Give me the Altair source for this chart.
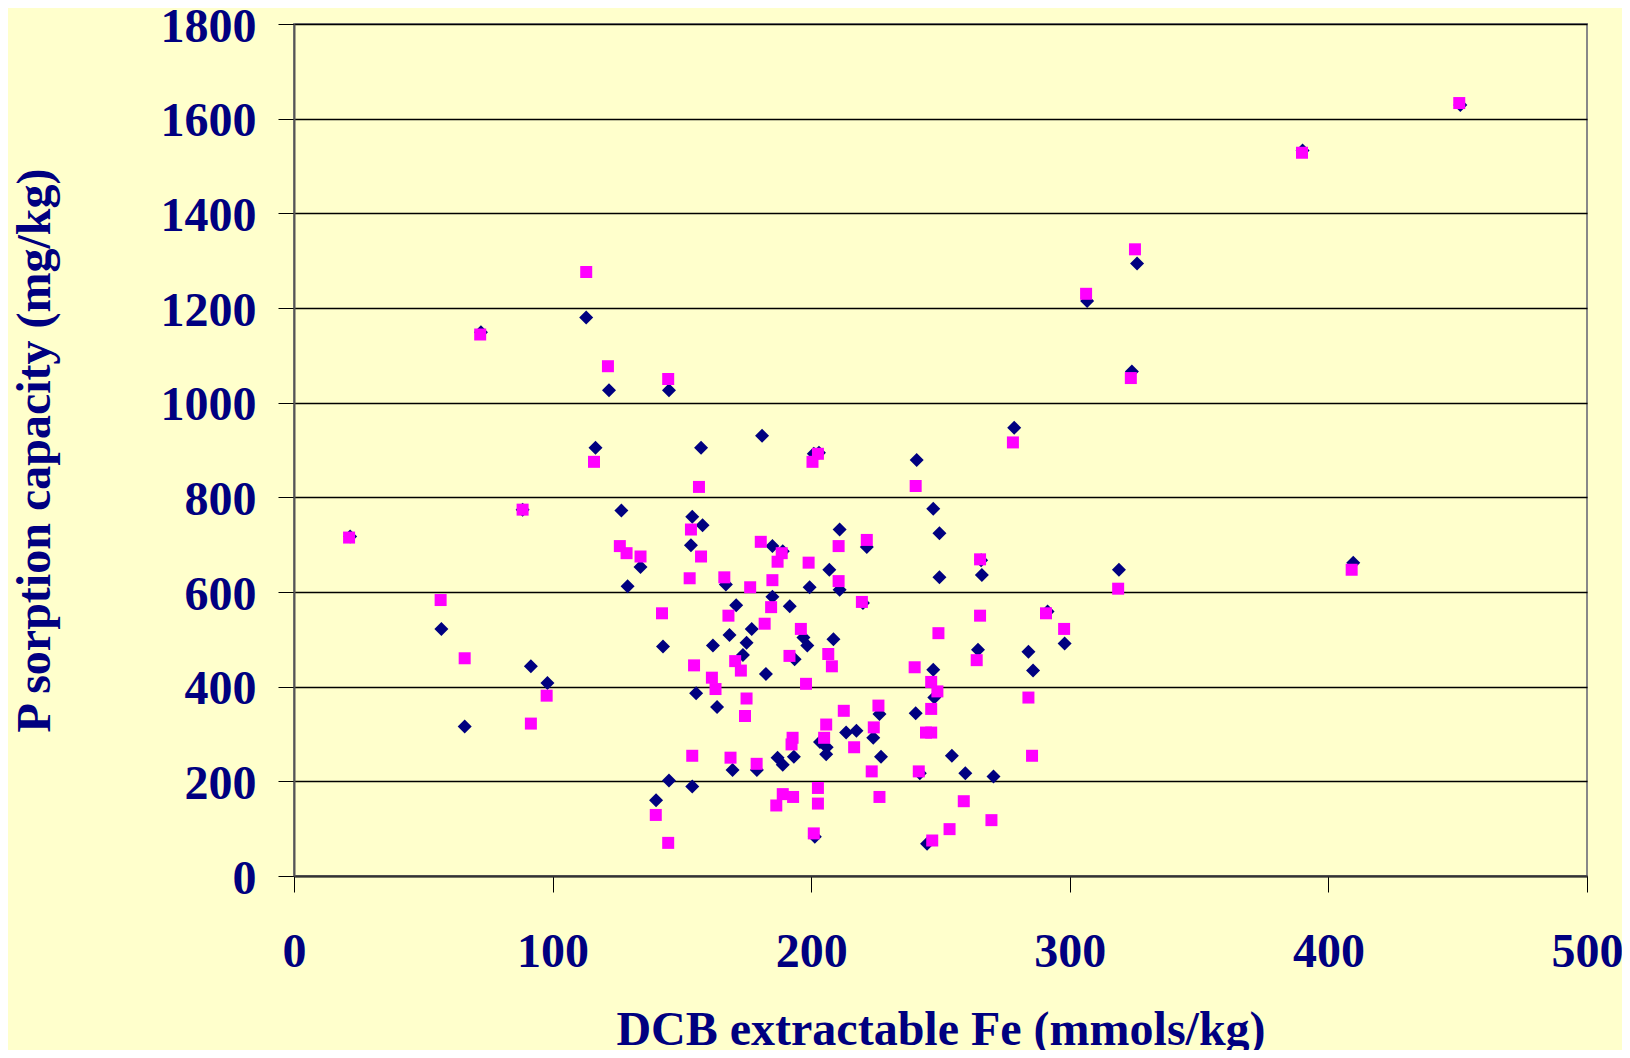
import altair as alt
import pandas as pd

# Measured series (navy diamonds)
fe_measured = [21.7, 72.3, 57, 66, 88.4, 91.6, 98, 113, 116.6, 121.8, 126.6, 129, 134, 145, 142.7,
               140, 145, 154, 153.5, 155.5, 154, 158, 157.4, 162, 163.6, 167, 168.4, 171, 169.6,
               173.6, 175, 177, 179, 181, 182.5, 185, 185, 187, 189, 189, 191.7, 193.6, 193.3,
               197, 198.5, 199.4, 201, 203, 201.4, 203.4, 205.8, 206, 207, 208.6, 211, 211,
               213.5, 217.5, 220, 221.5, 224, 226.4, 227, 240.8, 240.4, 242, 244.8, 247.2, 247.2,
               247.6, 249.6, 249.6, 254.4, 259.6, 264.5, 265.7, 266, 270.5, 278.5, 284, 285.8,
               291.4, 298, 306.7, 319, 324, 326, 390, 409.6, 451]
p_measured = [717, 1149, 522, 316, 774, 443, 408, 1180, 905, 1026, 772, 612, 653, 1026, 485,
              160, 202, 759, 699, 386, 189, 741, 905, 487, 357, 616, 509, 572, 224,
              467, 493, 522, 224, 930, 427, 697, 590, 250, 235, 686, 570, 458, 252,
              504, 487, 610, 892, 894, 83, 283, 257, 272, 647, 500, 732, 605,
              303, 307, 577, 695, 292, 342, 252, 879, 344, 217, 68, 776, 436,
              377, 724, 631, 254, 217, 478, 667, 636, 210, 947, 474, 434,
              559, 491, 1215, 647, 1066, 1294, 1533, 662, 1629]

# Predicted series (magenta squares)
fe_predicted = [21.3, 72, 56.7, 66, 88.4, 91.6, 97.7, 113, 116, 121.4, 126, 128.6, 134, 144.7, 142.3,
                139.9, 144.7, 153.5, 153, 154.7, 154, 157.4, 156.6, 161.6, 163, 166.4, 168, 170.6,
                168.8, 172.8, 174.4, 175, 176.4, 178.9, 180.5, 182, 184.5, 185, 186.5, 187, 188.6,
                189, 191.6, 192.8, 192.4, 193, 196, 198, 199, 200.5, 202.6, 201, 202.6, 202.6,
                205.8, 205, 206.6, 208, 210.6, 210.6, 212.6, 216.6, 219.6, 221.5, 223.4, 224.2,
                226, 226.4, 240.4, 240, 241.6, 244.4, 246.8, 246.4, 246.4, 246.4, 249.2, 248.8,
                253.5, 259, 264, 265.3, 265.3, 269.7, 278, 284, 285.4, 290.8, 297.8, 306.3, 318.7,
                323.6, 325.2, 389.8, 409, 450.6]
p_predicted = [715, 1144, 583, 460, 774, 322, 381, 1276, 875, 1077, 697, 682, 675, 1050, 555,
               129, 70, 732, 629, 445, 254, 675, 822, 419, 395, 631, 550, 454,
               250, 434, 338, 375, 610, 237, 706, 533, 568, 625, 149, 664, 682,
               173, 465, 292, 278, 167, 522, 406, 662, 875, 892, 90, 186, 153,
               320, 292, 469, 443, 697, 623, 349, 272, 579, 710, 221, 314,
               360, 167, 824, 441, 221, 303, 75, 410, 353, 303, 513, 390,
               99, 158, 456, 669, 550, 118, 916, 377, 254, 555, 522, 1230, 607,
               1052, 1324, 1528, 647, 1633]

series_names = ["Measured", "Predicted"]
series_colors = ["#000080", "#FF00FF"]
series_shapes = ["diamond", "square"]

x_ticks = [0, 100, 200, 300, 400, 500]
y_ticks = [0, 200, 400, 600, 800, 1000, 1200, 1400, 1600, 1800]

df = pd.concat([
    pd.DataFrame({"fe": fe_measured, "p": p_measured, "series": series_names[0]}),
    pd.DataFrame({"fe": fe_predicted, "p": p_predicted, "series": series_names[1]}),
])

FONT = "Liberation Serif"
NAVY = "#000080"

x_enc = alt.X("fe:Q", scale=alt.Scale(domain=[0, 500], nice=False),
              axis=alt.Axis(values=x_ticks, format="d", title="DCB extractable Fe (mmols/kg)",
                            grid=False, labelFlush=False,
                            tickSize=16, labelPadding=36, titlePadding=30,
                            domainColor="#333333", domainWidth=2, tickColor="#000000"))
y_enc = alt.Y("p:Q", scale=alt.Scale(domain=[0, 1800], nice=False),
              axis=alt.Axis(values=y_ticks, format="d", title="P sorption capacity (mg/kg)",
                            grid=True, labelFlush=False, labelOffset=3,
                            gridColor="#000000", gridWidth=1.5, tickSize=16, labelPadding=22,
                            titlePadding=101, domainColor="#555555", domainWidth=2,
                            tickColor="#000000"))

base = alt.Chart(df)
navy = base.transform_filter(alt.datum.series == series_names[0]).mark_point(
    shape=series_shapes[0], filled=True, size=196, color=series_colors[0], opacity=1
).encode(x=x_enc, y=y_enc)
pink = base.transform_filter(alt.datum.series == series_names[1]).mark_point(
    shape=series_shapes[1], filled=True, size=144, color=series_colors[1], opacity=1
).encode(x=x_enc, y=y_enc)

chart = alt.layer(navy, pink).properties(
    width=1293, height=852, autosize="none",
    padding={"left": 286, "top": 16, "right": 35, "bottom": 174},
    background="#FFFFCC",
).configure_view(
    stroke="#888888", strokeWidth=2, fill="#FFFFCC"
).configure_axis(
    labelFont=FONT, labelFontSize=48, labelFontWeight="bold", labelColor=NAVY,
    titleFont=FONT, titleFontSize=48, titleFontWeight="bold", titleColor=NAVY,
)

chart.save("out.html", embed_options={"renderer": "svg", "actions": False})
